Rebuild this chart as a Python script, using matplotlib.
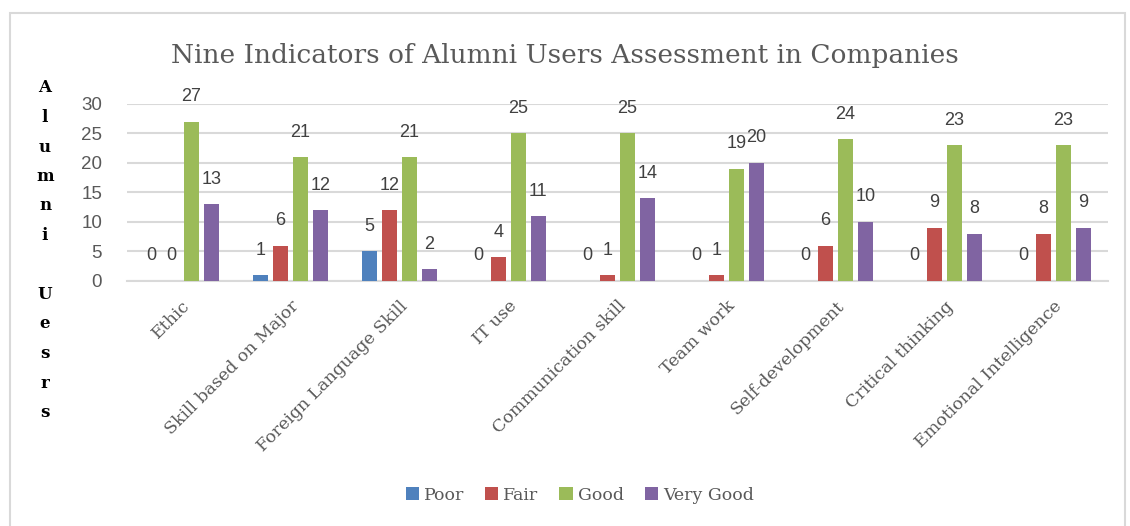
import numpy as np
import matplotlib.pyplot as plt
from matplotlib.patches import Rectangle

# %%
categories = ["Ethic", "Skill based on Major", "Foreign Language Skill", "IT use",
              "Communication skill", "Team work", "Self-development",
              "Critical thinking", "Emotional Intelligence"]
poor = [0, 1, 5, 0, 0, 0, 0, 0, 0]
fair = [0, 6, 12, 4, 1, 1, 6, 9, 8]
good = [27, 21, 21, 25, 25, 19, 24, 23, 23]
very_good = [13, 12, 2, 11, 14, 20, 10, 8, 9]
series_names = ["Poor", "Fair", "Good", "Very Good"]
colors = ["#4F81BD", "#C0504D", "#9BBB59", "#8064A2"]
ylabel_letters = ["A", "l", "u", "m", "n", "i", "", "U", "e", "s", "r", "s"]

# %%
serif = "DejaVu Serif"
sans = "Liberation Sans"

fig = plt.figure(figsize=(11.3, 5.26), dpi=100)
fig.patches.append(Rectangle((10/1130, -0.05), 1115/1130, 1.05 - 13/526,
                             transform=fig.transFigure, fill=False,
                             edgecolor="#d9d9d9", linewidth=1.5))
ax = fig.add_axes([0.1124, 0.4658, 0.868, 0.3365])

x = np.arange(len(categories))
w = 0.138
step = 0.183
data = [poor, fair, good, very_good]
for i, (vals, name, c) in enumerate(zip(data, series_names, colors)):
    pos = x + (i - 1.5) * step
    ax.bar(pos, vals, width=w, color=c, label=name, zorder=3)
    for px, v in zip(pos, vals):
        ax.annotate(str(v), (px, v), xytext=(0, 18), textcoords="offset points",
                    ha="center", va="center", fontsize=13, color="#404040",
                    family=sans, zorder=4)

ax.set_xlim(-0.5, len(categories) - 0.5)
ax.set_ylim(0, 30)
ax.set_yticks(range(0, 31, 5))
ax.yaxis.grid(True, color="#d9d9d9", linewidth=1.5, zorder=0)
ax.set_axisbelow(True)
for s in ["top", "right", "left"]:
    ax.spines[s].set_visible(False)
ax.spines["bottom"].set_color("#d9d9d9")
ax.spines["bottom"].set_linewidth(1.5)
ax.tick_params(length=0)
ax.tick_params(axis="y", labelsize=13.5, labelcolor="#595959", pad=18)
for t in ax.get_yticklabels():
    t.set_family(sans)
ax.set_xticks(x)
ax.set_xticklabels(categories, rotation=45, ha="right", va="top",
                   rotation_mode="anchor", fontsize=12.5, color="#595959",
                   family=serif)
ax.tick_params(axis="x", pad=12)

fig.text(0.5, 0.894, "Nine Indicators of Alumni Users Assessment in Companies",
         ha="center", va="center", fontsize=19, color="#595959", family=serif)

for k, ch in enumerate(ylabel_letters):
    fig.text(45/1130, 1 - (88 + 29.5*k)/526, ch, ha="center", va="center",
             fontsize=12, fontweight="bold", family=serif, color="black")

leg = fig.legend(loc="center", bbox_to_anchor=(0.513, 1 - 495/526), ncol=4,
                 frameon=False, handlelength=0.75, handleheight=0.75,
                 handletextpad=0.3, columnspacing=1.2,
                 prop={"family": serif, "size": 12.5})
for t in leg.get_texts():
    t.set_color("#595959")

fig.savefig("out.png", dpi=100)
